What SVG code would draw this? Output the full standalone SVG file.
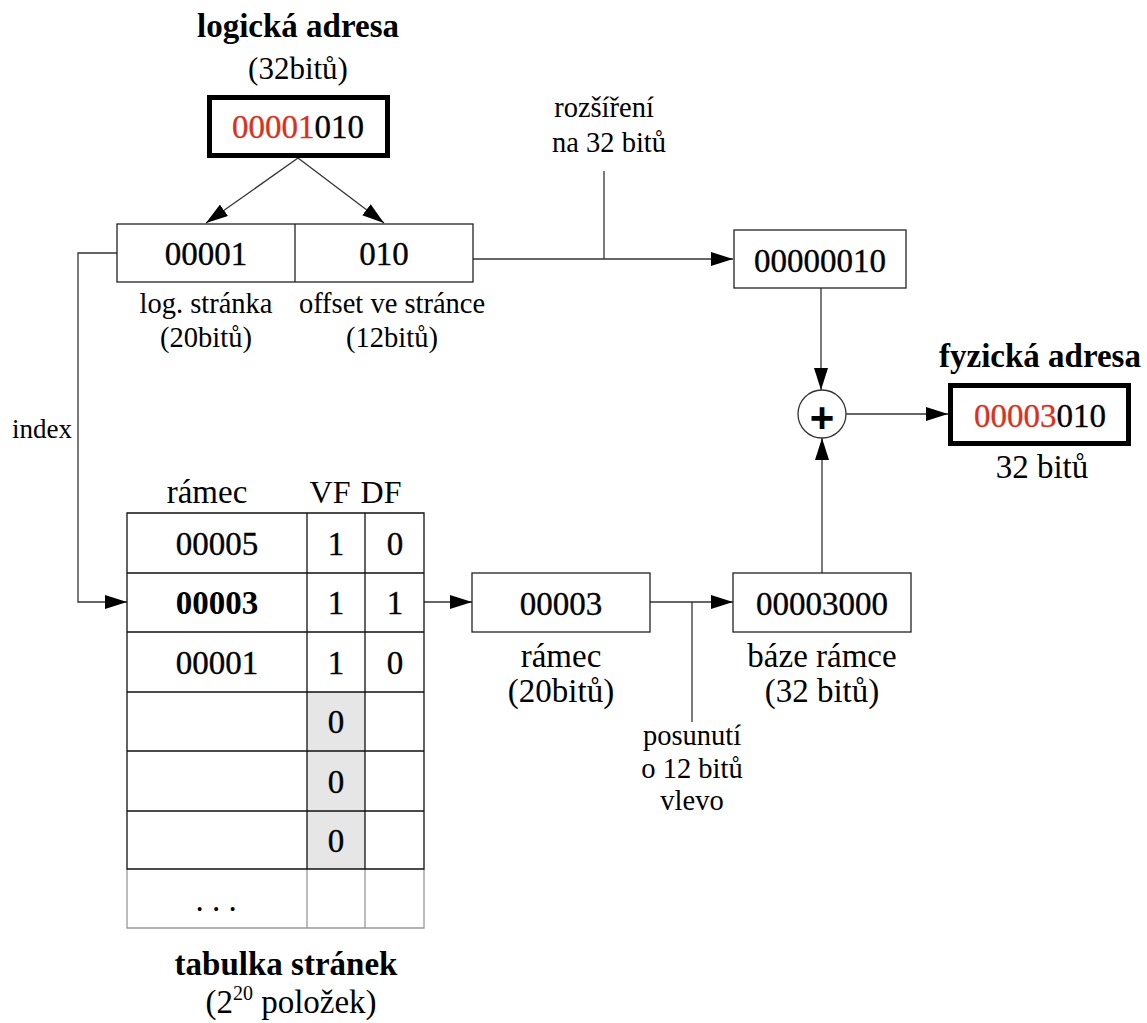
<svg xmlns="http://www.w3.org/2000/svg" width="1147" height="1023" viewBox="0 0 1147 1023">
  <style>
    text { font-family: 'Liberation Serif', serif; fill: #000; }
    .title { font-size: 33px; font-weight: bold; text-anchor: middle; }
    .lbl { font-size: 28.5px; text-anchor: middle; }
    .lbl33 { font-size: 33px; text-anchor: middle; }
    .num { font-size: 33px; text-anchor: middle; stroke: #000; stroke-width: 0.35px; }
    .numb { font-size: 33px; text-anchor: middle; font-weight: bold; }
    .red { fill: #d8321e; stroke: #d8321e; }
    .box { fill: #fff; stroke: #222; stroke-width: 1.3; }
    .thick { fill: #fff; stroke: #000; stroke-width: 5; }
    .wire { fill: none; stroke: #333; stroke-width: 1.3; }
    .grid { fill: none; stroke: #111; stroke-width: 1.3; }
    .faint { fill: none; stroke: #999; stroke-width: 1.3; }
    .shade { fill: #e6e6e6; stroke: none; }
  </style>
  <defs>
    <marker id="arrow" markerUnits="userSpaceOnUse" markerWidth="22" markerHeight="14" refX="22" refY="7" orient="auto">
      <path d="M0,0 L22,7 L0,14 z" fill="#000"/>
    </marker>
  </defs>

  <!-- connectors -->
  <g id="connectors">
    <line class="wire" x1="298" y1="158" x2="206" y2="223" marker-end="url(#arrow)"/>
    <line class="wire" x1="298" y1="158" x2="384" y2="223" marker-end="url(#arrow)"/>
    <line class="wire" x1="473" y1="259" x2="733" y2="259" marker-end="url(#arrow)"/>
    <line class="wire" x1="604" y1="171" x2="604" y2="259"/>
    <polyline class="wire" points="117,253 78,253 78,602 127,602" marker-end="url(#arrow)"/>
    <line class="wire" x1="424" y1="602" x2="472" y2="602" marker-end="url(#arrow)"/>
    <line class="wire" x1="650" y1="602" x2="733" y2="602" marker-end="url(#arrow)"/>
    <line class="wire" x1="692" y1="602" x2="692" y2="722"/>
    <line class="wire" x1="821" y1="288" x2="821" y2="390" marker-end="url(#arrow)"/>
    <line class="wire" x1="822" y1="573" x2="822" y2="438" marker-end="url(#arrow)"/>
    <line class="wire" x1="846" y1="414" x2="948" y2="414" marker-end="url(#arrow)"/>
  </g>

  <!-- logical address -->
  <g id="logical-address">
    <text class="title" x="298" y="37">logická adresa</text>
    <text class="lbl33" x="298" y="79" style="font-size:31px">(32bitů)</text>
    <rect class="thick" x="209.5" y="97.5" width="178" height="58"/>
    <text class="num" x="298" y="138"><tspan class="red">00001</tspan>010</text>
  </g>

  <!-- page / offset split -->
  <g id="split">
    <rect class="box" x="117" y="224" width="356" height="58"/>
    <line class="box" x1="295" y1="224" x2="295" y2="282"/>
    <text class="num" x="206" y="265">00001</text>
    <text class="num" x="384" y="265">010</text>
    <text class="lbl" x="206" y="313">log. stránka</text>
    <text class="lbl" x="206" y="347">(20bitů)</text>
    <text class="lbl" x="392" y="313">offset ve stránce</text>
    <text class="lbl" x="392" y="347">(12bitů)</text>
  </g>

  <g id="extend-label">
    <text class="lbl" x="604" y="117">rozšíření</text>
    <text class="lbl" x="609" y="152">na 32 bitů</text>
  </g>

  <g id="offset32">
    <rect class="box" x="734" y="230" width="172" height="58"/>
    <text class="num" x="820" y="272">00000010</text>
  </g>

  <g id="index-label">
    <text x="42" y="438" style="font-size:27px;text-anchor:middle">index</text>
  </g>

  <!-- adder -->
  <g id="adder">
    <circle cx="822" cy="414" r="24" fill="#fff" stroke="#333" stroke-width="1.3"/>
    <text x="822" y="432" style="font-family:'Liberation Sans',sans-serif;font-size:42px;font-weight:bold;text-anchor:middle">+</text>
  </g>

  <!-- physical address -->
  <g id="physical-address">
    <text class="title" x="1040" y="367">fyzická adresa</text>
    <rect class="thick" x="950.5" y="385.5" width="178" height="58"/>
    <text class="num" x="1040" y="427"><tspan class="red">00003</tspan>010</text>
    <text class="lbl33" x="1042" y="478">32 bitů</text>
  </g>

  <!-- page table -->
  <g id="page-table">
    <text class="lbl33" x="207" y="503">rámec</text>
    <text class="lbl33" x="330" y="503" style="font-size:32px">VF</text>
    <text class="lbl33" x="381" y="503" style="font-size:32px">DF</text>
    <rect class="shade" x="307" y="692" width="58" height="177"/>
    <!-- last (continuation) row -->
    <path class="faint" d="M127,869 V928 H424 V869 M307,869 V928 M365,869 V928"/>
    <!-- main grid -->
    <path class="grid" d="M127,513 H424 V869 H127 Z M127,573 H424 M127,632 H424 M127,692 H424 M127,751 H424 M127,811 H424 M307,513 V869 M365,513 V869"/>
    <text class="num" x="217" y="555">00005</text>
    <text class="num" x="336" y="555">1</text>
    <text class="num" x="395" y="555">0</text>
    <text class="numb" x="217" y="614">00003</text>
    <text class="num" x="336" y="614">1</text>
    <text class="num" x="395" y="614">1</text>
    <text class="num" x="217" y="674">00001</text>
    <text class="num" x="336" y="674">1</text>
    <text class="num" x="395" y="674">0</text>
    <text class="num" x="336" y="733">0</text>
    <text class="num" x="336" y="793">0</text>
    <text class="num" x="336" y="852">0</text>
    <text class="lbl33" x="216" y="911">. . .</text>
    <text class="title" x="286" y="975">tabulka stránek</text>
    <text class="lbl33" x="291" y="1013">(2<tspan style="font-size:20px" dy="-13">20</tspan><tspan dy="13"> položek)</tspan></text>
  </g>

  <!-- frame number -->
  <g id="frame">
    <rect class="box" x="472" y="573" width="178" height="59"/>
    <text class="num" x="561" y="615">00003</text>
    <text class="lbl33" x="561" y="667">rámec</text>
    <text class="lbl33" x="561" y="702">(20bitů)</text>
  </g>

  <g id="shift-label">
    <text class="lbl" x="692" y="745">posunutí</text>
    <text class="lbl" x="692" y="778">o 12 bitů</text>
    <text class="lbl" x="692" y="810">vlevo</text>
  </g>

  <!-- frame base -->
  <g id="frame-base">
    <rect class="box" x="733" y="573" width="178" height="59"/>
    <text class="num" x="822" y="615">00003000</text>
    <text class="lbl33" x="822" y="667">báze rámce</text>
    <text class="lbl33" x="822" y="702">(32 bitů)</text>
  </g>
</svg>
